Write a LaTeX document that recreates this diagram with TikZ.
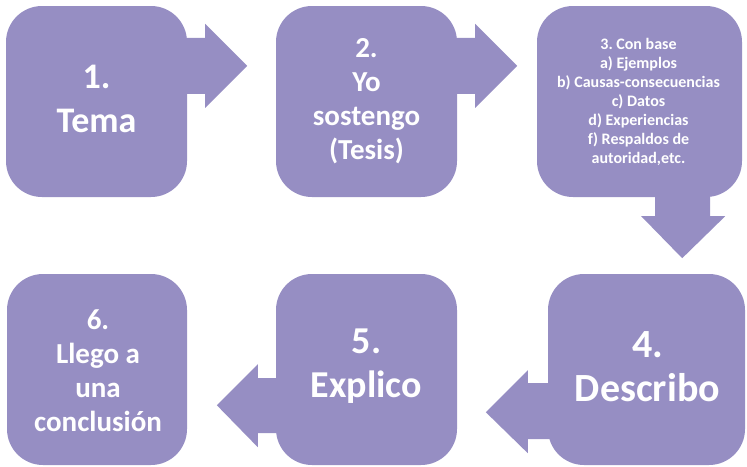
\documentclass[tikz,border=0pt]{standalone}
\usepackage{fontspec}
\setmainfont{Carlito}
\frenchspacing
\usetikzlibrary{calc}
\definecolor{boxfill}{RGB}{150,142,195}
\begin{document}
\begin{tikzpicture}[x=1pt,y=-1pt,
  blk/.style={fill=boxfill, draw=none, rounded corners=36pt, minimum width=181pt, minimum height=191pt},
  txt/.style={text=white, align=center, inner sep=0pt},
  big/.style={font=\bfseries\fontsize{38}{44}\selectfont},
  mid/.style={font=\bfseries\fontsize{29}{34}\selectfont},
  small/.style={font=\bfseries\fontsize{16}{19}\selectfont},
  arr/.style={fill=boxfill, draw=none}]
\useasboundingbox (0,0) rectangle (747,466);
% boxes
\node[blk] (b1) at (96.5,101.5) {};
\node[blk] (b2) at (366.5,101.5) {};
\node[blk, minimum width=205pt] (b3) at (639.5,101.5) {};
\node[blk, minimum width=197pt] (b4) at (646.5,369.5) {};
\node[blk] (b5) at (366.5,369.5) {};
\node[blk, minimum width=180pt] (b6) at (97,369.5) {};
% texts
\node[txt, font=\bfseries\fontsize{36}{44}\selectfont] (t1) at ($(b1.center)+(0,-3)$) {1.\\Tema};
\node[txt, mid] (t2) at ($(b2.center)+(0,0)$) {2.\\Yo\\sostengo\\(Tesis)};
\node[txt, small] (t3) at ($(b3.center)+(-1,0)$) {3. Con base\\a) Ejemplos\\b) Causas-consecuencias\\c) Datos\\d) Experiencias\\f) Respaldos de\\autoridad,etc.};
\node[txt, font=\bfseries\fontsize{40}{44}\selectfont] (t4) at ($(b4.center)+(1,-3)$) {4.\\Describo};
\node[txt, big] (t5) at ($(b5.center)+(0,-3)$) {5.\\Explico};
\node[txt, mid] (t6) at ($(b6.center)+(1,1)$) {6.\\Llego a\\una\\conclusión};
% block arrows
\fill[arr] ($(b1.north east)+(-5,32)$) -- ($(b1.north east)+(18,32)$) -- ($(b1.north east)+(18,18)$)
  -- ($(b1.north east)+(60,60)$) -- ($(b1.north east)+(18,102)$) -- ($(b1.north east)+(18,88)$)
  -- ($(b1.north east)+(-5,88)$) -- cycle;
\fill[arr] ($(b2.north east)+(-5,32)$) -- ($(b2.north east)+(18,32)$) -- ($(b2.north east)+(18,18)$)
  -- ($(b2.north east)+(60,60)$) -- ($(b2.north east)+(18,102)$) -- ($(b2.north east)+(18,88)$)
  -- ($(b2.north east)+(-5,88)$) -- cycle;
\fill[arr] ($(b3.south east)+(-87,-5)$) -- ($(b3.south east)+(-87,19)$) -- ($(b3.south east)+(-101,19)$)
  -- ($(b3.south east)+(-60,61)$) -- ($(b3.south east)+(-17,19)$) -- ($(b3.south east)+(-32,19)$)
  -- ($(b3.south east)+(-32,-5)$) -- cycle;
\fill[arr] ($(b4.south west)+(5,-82)$) -- ($(b4.south west)+(-20,-82)$) -- ($(b4.south west)+(-20,-95)$)
  -- ($(b4.south west)+(-62,-53)$) -- ($(b4.south west)+(-20,-12)$) -- ($(b4.south west)+(-20,-26)$)
  -- ($(b4.south west)+(5,-26)$) -- cycle;
\fill[arr] ($(b5.south west)+(5,-87)$) -- ($(b5.south west)+(-18,-87)$) -- ($(b5.south west)+(-18,-101)$)
  -- ($(b5.south west)+(-59,-60)$) -- ($(b5.south west)+(-18,-18)$) -- ($(b5.south west)+(-18,-32)$)
  -- ($(b5.south west)+(5,-32)$) -- cycle;
\end{tikzpicture}
\end{document}
